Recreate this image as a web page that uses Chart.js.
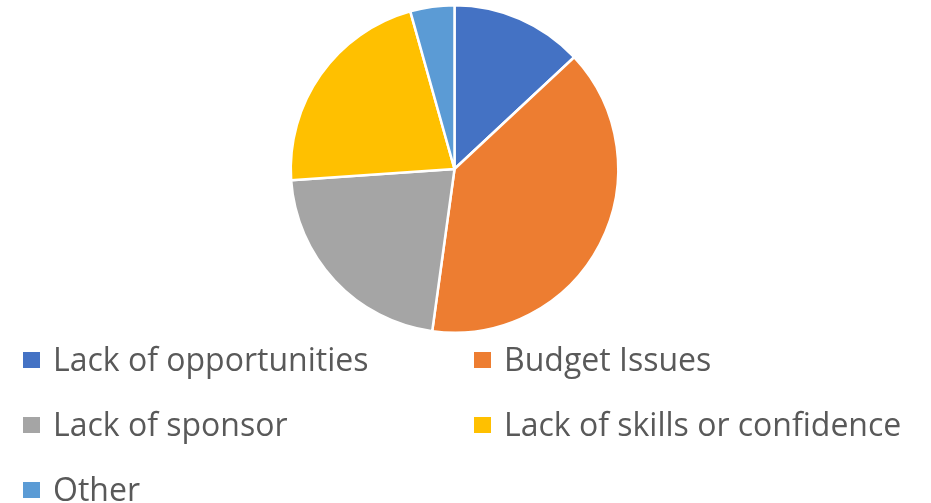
<!DOCTYPE html>
<html>
<head>
<meta charset="utf-8">
<script src="https://cdn.jsdelivr.net/npm/chart.js@4/dist/chart.umd.min.js"></script>
<style>
  body { margin: 0; background: #fff; width: 931px; height: 503px; overflow: hidden; position: relative; }
  #wrap { position: absolute; left: 0; top: 0; width: 931px; height: 340px; }
  #legend { position: absolute; left: 0; top: 0; width: 931px; height: 503px; pointer-events: none;
            font-family: "Open Sans", "Noto Sans", sans-serif; font-size: 32px; color: #595959; }
  .item { position: absolute; white-space: nowrap; line-height: 1; }
  .box { position: absolute; width: 17px; height: 16px; }
</style>
</head>
<body>
<div id="wrap"><canvas id="pie"></canvas></div>
<div id="legend"></div>
<script>
var categories = ['Lack of opportunities', 'Budget Issues', 'Lack of sponsor', 'Lack of skills or confidence', 'Other'];
var values = [3, 9, 5, 5, 1];
var colors = ['#4472C4', '#ED7D31', '#A5A5A5', '#FFC000', '#5B9BD5'];

var ctx = document.getElementById('pie');
var pieChart = new Chart(ctx, {
	type: 'pie',
	data: {
		labels: categories,
		datasets: [{
			data: values,
			backgroundColor: colors,
			borderColor: '#ffffff',
			borderWidth: 2.5
		}]
	},
	options: {
		responsive: true,
		maintainAspectRatio: false,
		animation: false,
		layout: { padding: { top: 4, bottom: 6, left: 0, right: 22 } },
		plugins: {
			legend: { display: false },
			tooltip: { enabled: false }
		}
	}
});

// legend drawn as html, two columns like the original
var legend = document.getElementById('legend');
var colX = [23, 474];
var rowY = [352, 417, 482];
categories.forEach(function(name, i){
	var col = i % 2, row = Math.floor(i / 2);
	var box = document.createElement('div');
	box.className = 'box';
	box.style.left = colX[col] + 'px';
	box.style.top = rowY[row] + 'px';
	box.style.background = colors[i];
	legend.appendChild(box);
	var txt = document.createElement('div');
	txt.className = 'item';
	txt.textContent = name;
	txt.style.left = (colX[col] + 30) + 'px';
	txt.style.top = (rowY[row] - 9) + 'px';
	legend.appendChild(txt);
});
</script>
</body>
</html>
